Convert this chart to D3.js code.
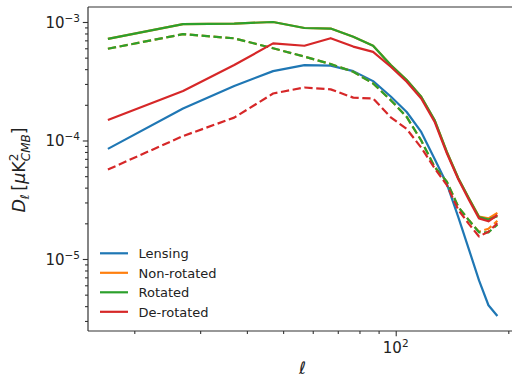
<!DOCTYPE html>
<html>
<head>
<meta charset="utf-8">
<script src="https://cdn.jsdelivr.net/npm/d3@7"></script>
<style>
  body { margin: 0; background: #fff; }
  svg { display: block; font-family: 'DejaVu Sans', sans-serif; }
</style>
</head>
<body>
<svg id="chart" width="512" height="378"></svg>
<script>
// multipole bin centres
const ells = [17, 27, 37, 47, 57, 67, 77, 87, 97, 107, 117, 127, 137, 147, 157, 167, 177, 187]

// solid curves
const lensing = [8.5e-5, 1.86e-4, 2.88e-4, 3.85e-4, 4.33e-4, 4.28e-4, 3.85e-4, 3.17e-4, 2.35e-4, 1.74e-4, 1.18e-4, 7.0e-5, 4.3e-5, 2.26e-5, 1.2e-5, 6.6e-6, 4.07e-6, 3.3e-6]
const nonRotSolid = [7.2e-4, 9.6e-4, 9.7e-4, 1.0e-3, 8.9e-4, 8.8e-4, 7.5e-4, 6.3e-4, 4.33e-4, 3.24e-4, 2.34e-4, 1.49e-4, 8.0e-5, 4.8e-5, 3.24e-5, 2.28e-5, 2.2e-5, 2.45e-5]
const rotSolid = [7.2e-4, 9.6e-4, 9.7e-4, 1.0e-3, 8.9e-4, 8.8e-4, 7.5e-4, 6.3e-4, 4.33e-4, 3.24e-4, 2.34e-4, 1.49e-4, 8.0e-5, 4.8e-5, 3.24e-5, 2.26e-5, 2.15e-5, 2.3e-5]
const deRotSolid = [1.49e-4, 2.62e-4, 4.33e-4, 6.6e-4, 6.3e-4, 7.3e-4, 6.2e-4, 5.6e-4, 4.19e-4, 3.13e-4, 2.26e-4, 1.44e-4, 7.8e-5, 4.7e-5, 3.15e-5, 2.2e-5, 2.08e-5, 2.35e-5]

// dashed curves
const nonRotDashed = [5.94e-4, 7.9e-4, 7.28e-4, 6.0e-4, 5.1e-4, 4.42e-4, 3.8e-4, 3.03e-4, 2.19e-4, 1.58e-4, 1.0e-4, 6.0e-5, 4.5e-5, 2.75e-5, 2.12e-5, 1.7e-5, 1.8e-5, 2.1e-5]
const rotDashed = [5.94e-4, 7.9e-4, 7.28e-4, 6.0e-4, 5.1e-4, 4.42e-4, 3.8e-4, 3.03e-4, 2.19e-4, 1.58e-4, 1.0e-4, 6.0e-5, 4.5e-5, 2.75e-5, 2.12e-5, 1.68e-5, 1.68e-5, 1.95e-5]
const deRotDashed = [5.69e-5, 1.09e-4, 1.56e-4, 2.49e-4, 2.8e-4, 2.7e-4, 2.3e-4, 2.26e-4, 1.57e-4, 1.25e-4, 8.7e-5, 5.85e-5, 4.2e-5, 2.6e-5, 1.97e-5, 1.55e-5, 1.7e-5, 2.0e-5]

const seriesNames = ['Lensing', 'Non-rotated', 'Rotated', 'De-rotated']
const seriesColors = ['#1f77b4', '#ff7f0e', '#2ca02c', '#d62728']

const xMajorTicks = [100]
const xMajorLabels = [['10', '2']]
const xMinorTicks = [20, 30, 40, 50, 60, 70, 80, 90, 200]
const yMajorTicks = [1e-5, 1e-4, 1e-3]
const yMajorLabels = [['10', '\u22125'], ['10', '\u22124'], ['10', '\u22123']]
const yMinorTicks = [3e-6, 4e-6, 5e-6, 6e-6, 7e-6, 8e-6, 9e-6,
  2e-5, 3e-5, 4e-5, 5e-5, 6e-5, 7e-5, 8e-5, 9e-5,
  2e-4, 3e-4, 4e-4, 5e-4, 6e-4, 7e-4, 8e-4, 9e-4]

const margin = { top: 7, left: 88 }
const width = 429
const height = 324

const svg = d3.select('#chart')
const g = svg.append('g').attr('transform', `translate(${margin.left},${margin.top})`)

const x = d3.scaleLog().domain([15.04, 211]).range([0, width])
const y = d3.scaleLog().domain([2.468e-6, 1.338e-3]).range([height, 0])

const line = d3.line()
  .x((d, i) => x(ells[i]))
  .y(d => y(d))

const curves = [
  { data: lensing, color: seriesColors[0], dash: null },
  { data: nonRotSolid, color: seriesColors[1], dash: null },
  { data: nonRotDashed, color: seriesColors[1], dash: '8.3,3.6' },
  { data: rotSolid, color: seriesColors[2], dash: null },
  { data: rotDashed, color: seriesColors[2], dash: '8.3,3.6' },
  { data: deRotSolid, color: seriesColors[3], dash: null },
  { data: deRotDashed, color: seriesColors[3], dash: '8.3,3.6' },
]

curves.forEach(c => {
  g.append('path')
    .datum(c.data)
    .attr('d', line)
    .attr('fill', 'none')
    .attr('stroke', c.color)
    .attr('stroke-width', 2.2)
    .attr('stroke-linejoin', 'round')
    .attr('stroke-dasharray', c.dash)
})

// axes
const axisColor = '#333'
const styleAxis = sel => {
  sel.select('.domain').remove()
  sel.selectAll('line').attr('stroke', axisColor).attr('stroke-width', 1.1)
}

g.append('g')
  .attr('transform', `translate(0,${height})`)
  .call(d3.axisBottom(x).tickValues(xMinorTicks).tickSize(3).tickFormat(''))
  .call(styleAxis)
g.append('g')
  .attr('transform', `translate(0,${height})`)
  .call(d3.axisBottom(x).tickValues(xMajorTicks).tickSize(5.2).tickFormat(''))
  .call(styleAxis)
g.append('g')
  .call(d3.axisLeft(y).tickValues(yMinorTicks).tickSize(3).tickFormat(''))
  .call(styleAxis)
g.append('g')
  .call(d3.axisLeft(y).tickValues(yMajorTicks).tickSize(5.2).tickFormat(''))
  .call(styleAxis)

// spines
g.append('line').attr('x1', 0).attr('x2', 0).attr('y1', 0).attr('y2', height)
  .attr('stroke', axisColor).attr('stroke-width', 1.2)
g.append('line').attr('x1', 0).attr('x2', width).attr('y1', height).attr('y2', height)
  .attr('stroke', axisColor).attr('stroke-width', 1.2)
g.append('line').attr('x1', 0).attr('x2', width).attr('y1', 0).attr('y2', 0)
  .attr('stroke', axisColor).attr('stroke-width', 1.2)
g.append('line').attr('x1', width).attr('x2', width).attr('y1', 0).attr('y2', height)
  .attr('stroke', axisColor).attr('stroke-width', 1.2)

// tick labels
yMajorTicks.forEach((v, i) => {
  const t = g.append('text')
    .attr('x', -8)
    .attr('y', y(v) + 6)
    .attr('text-anchor', 'end')
    .attr('font-size', 15)
    .attr('fill', '#222')
  t.append('tspan').text(yMajorLabels[i][0])
  t.append('tspan').attr('font-size', 10.5).attr('dy', -6).text(yMajorLabels[i][1])
})

xMajorTicks.forEach((v, i) => {
  const t = g.append('text')
    .attr('x', x(v))
    .attr('y', height + 22)
    .attr('text-anchor', 'middle')
    .attr('font-size', 15)
    .attr('fill', '#222')
  t.append('tspan').text(xMajorLabels[i][0])
  t.append('tspan').attr('font-size', 10.5).attr('dy', -6).text(xMajorLabels[i][1])
})

// axis labels
svg.append('text')
  .attr('x', margin.left + width / 2)
  .attr('y', 374)
  .attr('text-anchor', 'middle')
  .attr('font-size', 17)
  .attr('font-style', 'italic')
  .attr('fill', '#222')
  .text('\u2113')

const yl = svg.append('text')
  .attr('transform', 'translate(25,170) rotate(-90)')
  .attr('text-anchor', 'middle')
  .attr('font-size', 17.5)
  .attr('fill', '#222')
yl.append('tspan').attr('font-style', 'italic').text('D')
yl.append('tspan').attr('font-style', 'italic').attr('font-size', 12).attr('dy', 3.5).text('\u2113')
yl.append('tspan').attr('dy', -3.5).text('\u2009[')
yl.append('tspan').attr('font-style', 'italic').text('\u03bc')
yl.append('tspan').text('K')
yl.append('tspan').attr('font-size', 12).attr('dy', -7).text('2')
yl.append('tspan').attr('font-size', 12).attr('font-style', 'italic').attr('dx', -7.6).attr('dy', 11.5).text('CMB')
yl.append('tspan').attr('dy', -4.5).text(']')

// legend
const legend = svg.append('g')
seriesNames.forEach((name, i) => {
  const ly = 253.3 + i * 19.5
  legend.append('line')
    .attr('x1', 100).attr('x2', 128)
    .attr('y1', ly).attr('y2', ly)
    .attr('stroke', seriesColors[i])
    .attr('stroke-width', 2.2)
  legend.append('text')
    .attr('x', 138.5)
    .attr('y', ly + 4.7)
    .attr('font-size', 13)
    .attr('fill', '#222')
    .text(name)
})
</script>
</body>
</html>
